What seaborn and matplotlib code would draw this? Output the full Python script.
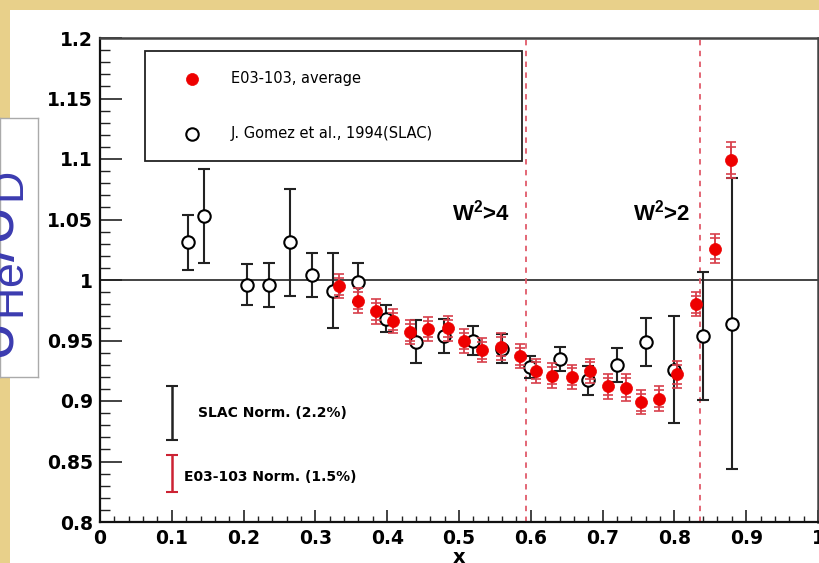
import matplotlib
matplotlib.use("Agg")
import matplotlib.pyplot as plt
import seaborn as sns
import numpy as np
import pandas as pd
from matplotlib.patches import Rectangle

# ---------------- data ----------------
e03_x = [0.333, 0.359, 0.384, 0.408, 0.432, 0.457, 0.485, 0.507, 0.532, 0.559, 0.585, 0.607,
         0.630, 0.657, 0.682, 0.708, 0.733, 0.754, 0.778, 0.804, 0.830, 0.857, 0.879]
e03_y = [0.995, 0.983, 0.974, 0.966, 0.957, 0.9595, 0.960, 0.9496, 0.942, 0.945, 0.937, 0.925,
         0.921, 0.920, 0.925, 0.912, 0.911, 0.899, 0.902, 0.922, 0.980, 1.026, 1.099]
e03_tot = [0.010, 0.010, 0.010, 0.010, 0.010, 0.010, 0.010, 0.010, 0.010, 0.011, 0.010, 0.010,
           0.010, 0.010, 0.010, 0.010, 0.011, 0.010, 0.010, 0.011, 0.010, 0.012, 0.015]
e03_stat = [0.007, 0.007, 0.007, 0.007, 0.007, 0.007, 0.007, 0.007, 0.007, 0.008, 0.007, 0.007,
            0.007, 0.007, 0.007, 0.007, 0.008, 0.007, 0.007, 0.008, 0.007, 0.009, 0.011]

slac_x = [0.123, 0.145, 0.205, 0.235, 0.265, 0.295, 0.325, 0.360, 0.398, 0.440, 0.479, 0.519,
          0.560, 0.599, 0.641, 0.680, 0.720, 0.761, 0.800, 0.840, 0.880]
slac_y = [1.031, 1.053, 0.996, 0.996, 1.031, 1.004, 0.991, 0.998, 0.968, 0.949, 0.954, 0.950,
          0.943, 0.928, 0.935, 0.917, 0.930, 0.949, 0.926, 0.954, 0.964]
slac_err = [0.023, 0.039, 0.017, 0.018, 0.044, 0.018, 0.031, 0.016, 0.011, 0.018, 0.014, 0.012,
            0.012, 0.009, 0.010, 0.012, 0.014, 0.020, 0.044, 0.053, 0.120]

norm_labels = ["SLAC Norm. (2.2%)", "E03-103 Norm. (1.5%)"]
norm_x = [0.1, 0.1]
norm_y = [0.89, 0.84]
norm_err = [0.022, 0.015]

w2_cuts = [0.593, 0.836]
w2_labels = ["W$^2$>4", "W$^2$>2"]

x_ticks = [0.0, 0.1, 0.2, 0.3, 0.4, 0.5, 0.6, 0.7, 0.8, 0.9, 1.0]
x_tick_labels = ["0", "0.1", "0.2", "0.3", "0.4", "0.5", "0.6", "0.7", "0.8", "0.9", "1"]
y_ticks = [0.8, 0.85, 0.9, 0.95, 1.0, 1.05, 1.1, 1.15, 1.2]
y_tick_labels = ["0.8", "0.85", "0.9", "0.95", "1", "1.05", "1.1", "1.15", "1.2"]

series_labels = ["E03-103, average", "J. Gomez et al., 1994(SLAC)"]

# ---------------- style ----------------
sns.set_style("ticks")
plt.rcParams['font.family'] = ['DejaVu Sans']
plt.rcParams['mathtext.fontset'] = 'custom'
plt.rcParams['mathtext.rm'] = 'Liberation Sans'
plt.rcParams['mathtext.bf'] = 'Liberation Sans:bold'
plt.rcParams['mathtext.default'] = 'regular'
plt.rcParams['text.color'] = 'black'
plt.rcParams['axes.labelcolor'] = 'black'
plt.rcParams['xtick.color'] = 'black'
plt.rcParams['ytick.color'] = 'black'

W, H = 819, 563
fig = plt.figure(figsize=(W / 100, H / 100), dpi=100)
fig.patch.set_facecolor('#e8d08a')
fig.patches.append(Rectangle((10 / W, 0), 1, (H - 10) / H, transform=fig.transFigure,
                             facecolor='white', edgecolor='none', zorder=-5))

ax = fig.add_axes([100 / W, (H - 522) / H, 718 / W, 484 / H])
ax.set_zorder(2)
ax.set_facecolor('white')

# reference line and W^2 cuts
ax.axhline(1.0, color='#222222', lw=1.2, zorder=1)
for xc in w2_cuts:
    ax.axvline(xc, color='#e05a6a', lw=1.3, ls=(0, (3, 3)), zorder=1)

# SLAC error bars + markers
ax.errorbar(slac_x, slac_y, yerr=slac_err, fmt='none', ecolor='#222222', elinewidth=1.5,
            capsize=4, capthick=1.5, zorder=2)
df_s = pd.DataFrame({'x': slac_x, 'y': slac_y})
sns.scatterplot(data=df_s, x='x', y='y', ax=ax, marker='o', s=80, facecolor='white',
                edgecolor='black', linewidth=1.5, zorder=3, label=series_labels[1])

# E03-103 error bars (total and stat) + markers
ax.errorbar(e03_x, e03_y, yerr=e03_tot, fmt='none', ecolor='#d8404c', elinewidth=1.3,
            capsize=3.5, capthick=1.2, zorder=4)
ax.errorbar(e03_x, e03_y, yerr=e03_stat, fmt='none', ecolor='#d8404c', elinewidth=1.3,
            capsize=3.5, capthick=1.2, zorder=4)
df_e = pd.DataFrame({'x': e03_x, 'y': e03_y})
sns.scatterplot(data=df_e, x='x', y='y', ax=ax, marker='o', s=75, color='#ee0000',
                edgecolor='#ee0000', linewidth=0.5, zorder=5, label=series_labels[0])

# normalisation bars
ax.errorbar(norm_x[0], norm_y[0], yerr=norm_err[0], fmt='none', ecolor='#222222',
            elinewidth=1.8, capsize=4, capthick=1.5, zorder=2)
ax.errorbar(norm_x[1], norm_y[1], yerr=norm_err[1], fmt='none', ecolor='#cc2233',
            elinewidth=1.8, capsize=4, capthick=1.5, zorder=2)
ax.text(0.1365, norm_y[0], norm_labels[0], fontsize=10, fontweight='bold', va='center', ha='left')
ax.text(0.117, 0.837, norm_labels[1], fontsize=10, fontweight='bold', va='center', ha='left')

# W^2 labels
ax.text(0.571, 1.0554, w2_labels[0], fontsize=16, fontweight='bold', ha='right', va='center',
        family='Liberation Sans')
ax.text(0.822, 1.0554, w2_labels[1], fontsize=16, fontweight='bold', ha='right', va='center',
        family='Liberation Sans')

# axes
ax.set_xlim(0, 1)
ax.set_ylim(0.8, 1.2)
ax.set_xticks(x_ticks)
ax.set_xticklabels(x_tick_labels)
ax.set_yticks(y_ticks)
ax.set_yticklabels(y_tick_labels)
ax.xaxis.set_minor_locator(matplotlib.ticker.MultipleLocator(0.02))
ax.yaxis.set_minor_locator(matplotlib.ticker.MultipleLocator(0.01))
ax.tick_params(axis='both', which='both', direction='in', top=False, right=False,
               color='#222222', labelcolor='black')
ax.tick_params(axis='x', which='major', length=9, width=1.2, pad=5, labelsize=13.5)
ax.tick_params(axis='x', which='minor', length=4.5, width=1.0)
ax.tick_params(axis='y', which='major', length=16, width=1.2, pad=5, labelsize=13.5)
ax.tick_params(axis='y', which='minor', length=7.5, width=1.0)
for lab in ax.get_xticklabels() + ax.get_yticklabels():
    lab.set_fontweight('bold')
ax.set_xlabel('x', fontsize=14, fontweight='bold', labelpad=0, color='black')
ax.set_ylabel('')
for side in ['left', 'bottom']:
    ax.spines[side].set_linewidth(1.6)
    ax.spines[side].set_color('#111111')
for side in ['top', 'right']:
    ax.spines[side].set_visible(True)
    ax.spines[side].set_linewidth(1.8)
    ax.spines[side].set_color('#444444')

# legend (E03-103 first)
handles, labels = ax.get_legend_handles_labels()
order = [labels.index(series_labels[0]), labels.index(series_labels[1])]
leg = ax.legend([handles[i] for i in order], [labels[i] for i in order],
                loc='upper left', bbox_to_anchor=(0.0627, 0.0, 0.5253, 0.973), mode='expand',
                fontsize=10.5, frameon=True, fancybox=False, borderpad=1.35, labelspacing=2.77,
                handlelength=3.74, handletextpad=0.8, borderaxespad=0, labelcolor='black')
leg.get_frame().set_edgecolor('#222222')
leg.get_frame().set_linewidth(1.3)
leg.get_frame().set_alpha(1)

# left label box (partially visible y label)
bax = fig.add_axes([0, (H - 377) / H, 38 / W, (377 - 118) / H])
bax.set_zorder(3)
bax.set_facecolor('white')
bax.set_xticks([])
bax.set_yticks([])
for s in bax.spines.values():
    s.set_color('#aaaaaa')
    s.set_linewidth(1)
bax.set_xlim(0, 1)
bax.set_ylim(0, 1)
bax.text(-0.1, 0.43, r'$\sigma_{He}/\sigma_D$', rotation=90, fontsize=46, color='#3b3bb0',
         ha='center', va='center', clip_on=True, transform=bax.transAxes,
         family='Liberation Sans')

fig.savefig('out.png', dpi=100, facecolor=fig.get_facecolor())
